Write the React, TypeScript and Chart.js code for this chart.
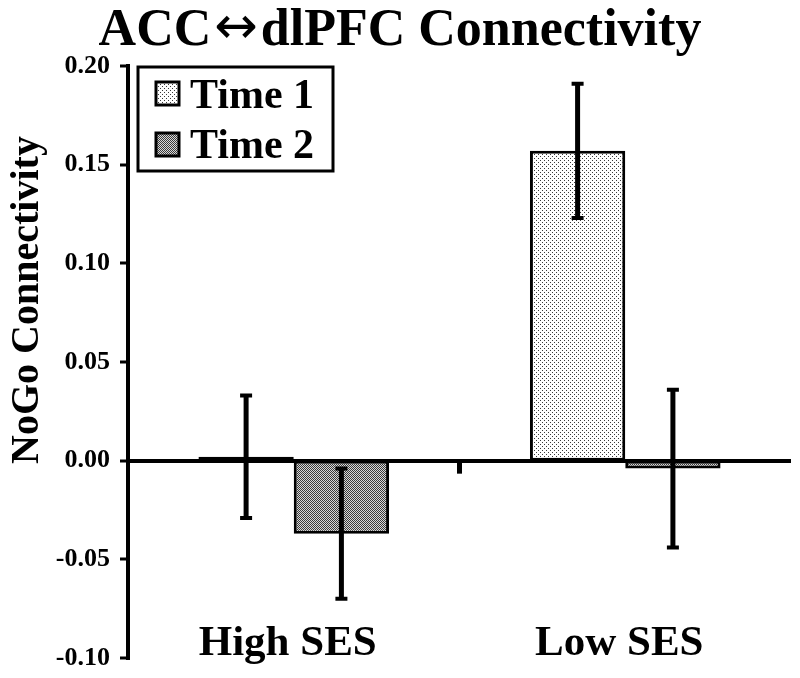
import React, { useEffect, useRef } from "react";
import { Chart, registerables } from "chart.js";

Chart.register(...registerables);

const titleParts = ["ACC", "\u2194", "dlPFC Connectivity"];
const yAxisTitle = "NoGo Connectivity";
const categories = ["High SES", "Low SES"];
const seriesNames = ["Time 1", "Time 2"];
const time1 = [0.002, 0.157];
const time2 = [-0.037, -0.004];
const time1Err = [0.031, 0.034];
const time2Err = [0.033, 0.04];
const yMin = -0.1;
const yMax = 0.2;
const yStep = 0.05;

const FONT = '"Liberation Serif", "Times New Roman", serif';

function makeDotPattern(ctx: CanvasRenderingContext2D) {
  const c = document.createElement("canvas");
  c.width = 4;
  c.height = 4;
  const g = c.getContext("2d")!;
  g.fillStyle = "#ffffff";
  g.fillRect(0, 0, 4, 4);
  g.fillStyle = "#3a3a3a";
  g.fillRect(0, 0, 1, 1);
  g.fillRect(2, 2, 1, 1);
  return ctx.createPattern(c, "repeat")!;
}

function makeCheckPattern(ctx: CanvasRenderingContext2D) {
  const c = document.createElement("canvas");
  c.width = 2;
  c.height = 2;
  const g = c.getContext("2d")!;
  g.fillStyle = "#d8d8d8";
  g.fillRect(0, 0, 2, 2);
  g.fillStyle = "#3a3a3a";
  g.fillRect(0, 0, 1, 1);
  g.fillRect(1, 1, 1, 1);
  return ctx.createPattern(c, "repeat")!;
}

export default function App() {
  const ref = useRef<HTMLCanvasElement | null>(null);

  useEffect(() => {
    document.body.style.margin = "0";
    const canvas = ref.current!;
    const ctx = canvas.getContext("2d")!;
    const p1 = makeDotPattern(ctx);
    const p2 = makeCheckPattern(ctx);
    const errs = [time1Err, time2Err];

    const decorPlugin = {
      id: "decor",
      afterDatasetsDraw(chart: any) {
        const c = chart.ctx as CanvasRenderingContext2D;
        const ys = chart.scales.y;
        const xs = chart.scales.x;
        c.save();
        // error bars
        chart.data.datasets.forEach((ds: any, i: number) => {
          const meta = chart.getDatasetMeta(i);
          meta.data.forEach((el: any, j: number) => {
            const v = ds.data[j];
            const e = errs[i][j];
            const x = el.x;
            const yt = ys.getPixelForValue(v + e);
            const yb = ys.getPixelForValue(v - e);
            c.strokeStyle = "#000";
            c.lineWidth = 5;
            c.beginPath();
            c.moveTo(x, yt);
            c.lineTo(x, yb);
            c.stroke();
            c.lineWidth = 4;
            c.beginPath();
            c.moveTo(x - 6, yt);
            c.lineTo(x + 6, yt);
            c.moveTo(x - 6, yb);
            c.lineTo(x + 6, yb);
            c.stroke();
          });
        });
        // category separator tick on zero line
        const zy = ys.getPixelForValue(0);
        const bx = (xs.getPixelForValue(0) + xs.getPixelForValue(1)) / 2;
        c.lineWidth = 5;
        c.beginPath();
        c.moveTo(bx, zy);
        c.lineTo(bx, zy + 13);
        c.stroke();
        // category labels
        c.fillStyle = "#000";
        c.font = `bold 43px ${FONT}`;
        c.textAlign = "center";
        c.textBaseline = "alphabetic";
        categories.forEach((cat, j) => {
          c.fillText(cat, xs.getPixelForValue(j) - 6, 655);
        });
        // title (arrow in a lighter face)
        const f1 = `bold 52px ${FONT}`;
        const f2 = `52px "DejaVu Sans", sans-serif`;
        c.textAlign = "left";
        c.font = f1;
        const w0 = c.measureText(titleParts[0]).width;
        const w2 = c.measureText(titleParts[2]).width;
        c.font = f2;
        const w1 = c.measureText(titleParts[1]).width + 6;
        const total = w0 + w1 + w2;
        let tx = 400 - total / 2;
        c.font = f1;
        c.fillText(titleParts[0], tx, 45);
        tx += w0;
        c.font = f2;
        c.fillText(titleParts[1], tx + 3, 43);
        tx += w1;
        c.font = f1;
        c.fillText(titleParts[2], tx, 45);
        // y axis title
        c.save();
        c.textAlign = "center";
        c.translate(38, 300);
        c.rotate(-Math.PI / 2);
        c.font = `bold 40px ${FONT}`;
        c.fillText(yAxisTitle, 0, 0);
        c.restore();
        // legend
        c.lineWidth = 3;
        c.strokeStyle = "#000";
        c.fillStyle = "#fff";
        c.fillRect(138, 67, 195, 104);
        c.strokeRect(138, 67, 195, 104);
        const pats = [p1, p2];
        const sy = [82, 133];
        const ty = [108, 158];
        seriesNames.forEach((name, i) => {
          c.fillStyle = pats[i];
          c.fillRect(156, sy[i], 23, 23);
          c.lineWidth = 3;
          c.strokeRect(156, sy[i], 23, 23);
          c.fillStyle = "#000";
          c.font = `bold 42px ${FONT}`;
          c.textAlign = "left";
          c.fillText(name, 190, ty[i]);
        });
        c.restore();
      },
    };

    const chart = new Chart(canvas, {
      type: "bar",
      data: {
        labels: categories,
        datasets: [
          {
            label: seriesNames[0],
            data: time1,
            backgroundColor: p1 as any,
            borderColor: "#000",
            borderWidth: 3,
            borderSkipped: false,
            categoryPercentage: 0.575,
            barPercentage: 1,
          },
          {
            label: seriesNames[1],
            data: time2,
            backgroundColor: p2 as any,
            borderColor: "#000",
            borderWidth: 3,
            borderSkipped: false,
            categoryPercentage: 0.575,
            barPercentage: 1,
          },
        ],
      },
      options: {
        responsive: false,
        animation: false,
        devicePixelRatio: 1,
        layout: { padding: { top: 66, bottom: 20, left: 0, right: 9 } },
        plugins: {
          legend: { display: false },
          title: { display: false },
          tooltip: { enabled: false },
        },
        scales: {
          x: {
            display: false,
          },
          y: {
            min: yMin,
            max: yMax,
            afterFit(scale: any) {
              scale.width = 128;
              scale.paddingTop = 0;
              scale.paddingBottom = 0;
            },
            border: { display: true, color: "#000", width: 4 },
            grid: {
              drawOnChartArea: true,
              color: (c: any) => (c.tick && Math.abs(c.tick.value) < 1e-9 ? "#000" : "rgba(0,0,0,0)"),
              lineWidth: 4,
              tickColor: "#000",
              tickWidth: 3,
              tickLength: 8,
            },
            ticks: {
              stepSize: yStep,
              color: "#000",
              padding: 10,
              font: { family: FONT, size: 26, weight: "bold", lineHeight: 1 },
              callback: (v: any) => Number(v).toFixed(2),
            },
          },
        },
      },
      plugins: [decorPlugin],
    });
    return () => chart.destroy();
  }, []);

  return (
    <div style={{ width: 800, height: 678 }}>
      <canvas ref={ref} width={800} height={678} />
    </div>
  );
}
